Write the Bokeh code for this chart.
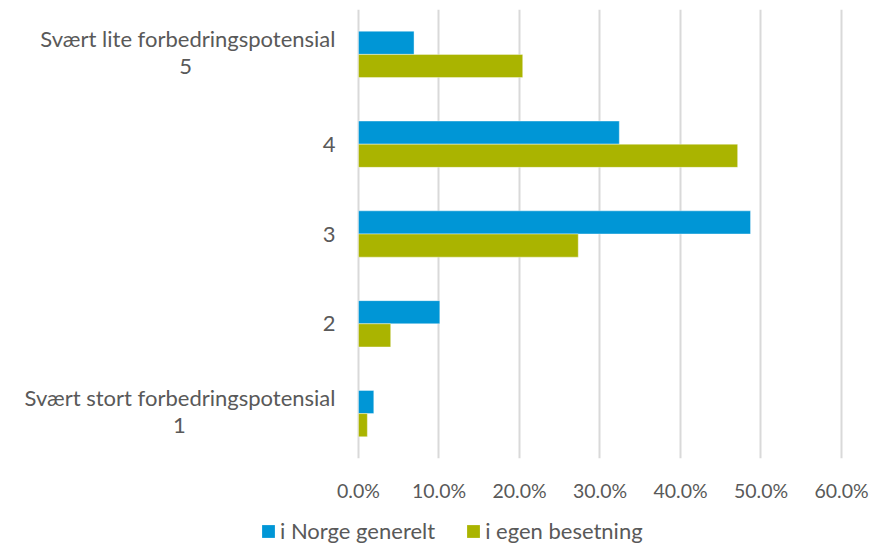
from bokeh.plotting import figure
from bokeh.layouts import column
from bokeh.models import (ColumnDataSource, FactorRange, Range1d, FixedTicker,
                          PrintfTickFormatter, Legend, LegendItem)
from bokeh.transform import dodge
from bokeh.core.properties import value
from bokeh.embed import file_html
from bokeh.resources import INLINE

# ---- data ----
levels = ["1", "2", "3", "4", "5"]
level_titles = ["Svært stort forbedringspotensial", "", "", "", "Svært lite forbedringspotensial"]
norge = [1.9, 10.1, 48.7, 32.4, 6.9]      # i Norge generelt (%)
egen = [1.1, 4.0, 27.3, 47.1, 20.4]       # i egen besetning (%)
x_ticks = [0, 10, 20, 30, 40, 50, 60]
series_names = ["i Norge generelt", "i egen besetning"]

# ---- style / layout ----
FONT = "Lato"
TXT = "#595959"
BLUE = "#0096D6"
GREEN = "#AAB400"
TICK_FS = "19.5px"
LAB_FS = "22px"
LEG_FS = "22px"
label_right_x = -2.857                     # right edge of category labels (data units)
sub_center_x = {"1": -22.24, "5": -21.49}  # centre of the second label line

src = ColumnDataSource(dict(cat=levels, norge=norge, egen=egen))

p = figure(width=872, height=504, output_backend="svg", toolbar_location=None,
           y_range=FactorRange(factors=levels, range_padding=0),
           x_range=Range1d(-44.472, 63.851),
           min_border_left=0, min_border_right=0, min_border_top=9, min_border_bottom=0)
p.outline_line_color = None
p.yaxis.visible = False
p.ygrid.grid_line_color = None

ticker = FixedTicker(ticks=x_ticks)
p.xaxis.ticker = ticker
p.xgrid.ticker = ticker
p.xgrid.grid_line_color = "#d9d9d9"
p.xgrid.grid_line_width = 2
p.xaxis.formatter = PrintfTickFormatter(format="%.1f%%")
p.xaxis.axis_line_color = None
p.xaxis.major_tick_line_color = None
p.xaxis.minor_tick_line_color = None
p.xaxis.major_tick_out = 0
p.xaxis.major_label_standoff = 20
p.xaxis.major_label_text_font = FONT
p.xaxis.major_label_text_font_size = TICK_FS
p.xaxis.major_label_text_color = TXT

bh = 0.258
bar_edge = dict(line_color="white", line_alpha=0.4, line_width=1)
p.hbar(y=dodge("cat", bh / 2, range=p.y_range), right="norge", left=0, height=bh,
       source=src, fill_color=BLUE, **bar_edge)
p.hbar(y=dodge("cat", -bh / 2, range=p.y_range), right="egen", left=0, height=bh,
       source=src, fill_color=GREEN, **bar_edge)

# category labels
single_cats = [c for c, t in zip(levels, level_titles) if not t]
double_cats = [c for c, t in zip(levels, level_titles) if t]
single = ColumnDataSource(dict(cat=single_cats))
double = ColumnDataSource(dict(cat=double_cats,
                               title=[t for t in level_titles if t],
                               cx=[sub_center_x[c] for c in double_cats]))
common = dict(text_font=value(FONT), text_font_size=LAB_FS, text_color=TXT, text_baseline="middle")
p.text(x=label_right_x, y="cat", text="cat", source=single, text_align="right", **common)
p.text(x=label_right_x, y="cat", text="title", source=double, text_align="right", y_offset=-16, **common)
p.text(x="cx", y="cat", text="cat", source=double, text_align="center", y_offset=12, **common)

# legend strip below the chart (proxy renderers sit outside the visible range)
lg = figure(width=872, height=40, output_backend="svg", toolbar_location=None,
            x_range=Range1d(0, 1), y_range=Range1d(0, 1),
            x_axis_location=None, y_axis_location=None,
            min_border_left=0, min_border_right=0, min_border_top=0, min_border_bottom=0)
lg.outline_line_color = None
lg.xgrid.visible = False
lg.ygrid.visible = False
proxy = ColumnDataSource(dict(y=[-10], right=[-10]))
l1 = lg.hbar(y="y", right="right", left=-11, height=0.5, source=proxy, fill_color=BLUE, line_color=None)
l2 = lg.hbar(y="y", right="right", left=-11, height=0.5, source=proxy, fill_color=GREEN, line_color=None)
legend = Legend(items=[LegendItem(label=series_names[0], renderers=[l1]),
                       LegendItem(label=series_names[1], renderers=[l2])],
                orientation="horizontal", location=(260, 0),
                glyph_width=16, glyph_height=16, label_standoff=4, spacing=30,
                padding=0, margin=0, border_line_color=None, background_fill_alpha=0,
                label_text_font=FONT, label_text_font_size=LEG_FS, label_text_color=TXT)
lg.add_layout(legend, "center")

layout = column(p, lg, spacing=0)
open("out.html", "w").write(file_html(layout, INLINE))
